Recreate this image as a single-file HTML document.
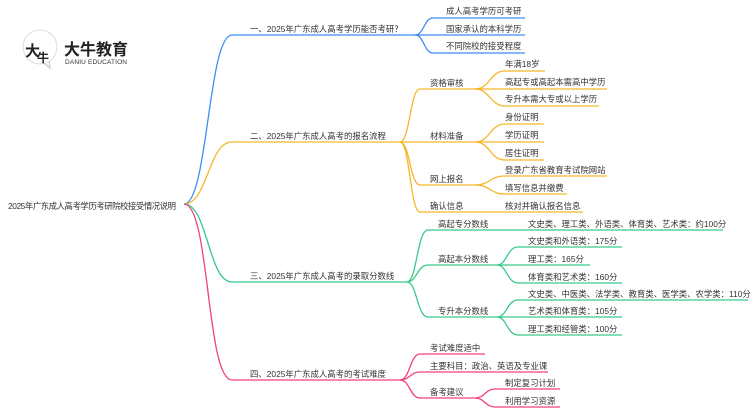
<!DOCTYPE html>
<html><head><meta charset="utf-8"><style>
html,body{margin:0;padding:0;background:#fff;width:750px;height:410px;overflow:hidden}
svg text{font-family:"Liberation Sans","Noto Sans CJK SC",sans-serif;font-size:8.4px;fill:#333}
path{fill:none;stroke-width:1.3}
</style></head><body>
<svg width="750" height="410" viewBox="0 0 750 410" xmlns="http://www.w3.org/2000/svg">
<!-- logo -->
<circle cx="40" cy="47" r="17" fill="#fff" stroke="#ddd" stroke-width="1"/>
<path d="M24 41 A17 17 0 0 1 56 41 Z" fill="#e02020" stroke="none"/>
<path d="M44 63 L50 68 L49 61" stroke="#ccc" stroke-width="1"/>
<text x="25" y="56" style="font-size:15px;fill:#222;font-weight:bold">大</text>
<text x="37" y="62" style="font-size:12px;fill:#222;font-weight:bold">牛</text>
<text x="64" y="55" style="font-size:16px;font-weight:bold;fill:#222">大牛教育</text>
<text x="65" y="64" style="font-size:6.5px;fill:#333" textLength="62">DANIU EDUCATION</text>

<!-- root -->
<text x="8" y="209" textLength="168">2025年广东成人高考学历考研院校接受情况说明</text>

<!-- blue -->
<g stroke="#3c8ef0">
<path d="M184 204 C208 204 208 35 232 35 L415 35"/>
<path d="M415 35 C424 35 424 18 433 18 L525 18"/>
<path d="M415 35 L525 35"/>
<path d="M415 35 C424 35 424 53 433 53 L525 53"/>
</g>
<text x="250" y="32">一、2025年广东成人高考学历能否考研？</text>
<text x="446" y="14">成人高考学历可考研</text>
<text x="446" y="32">国家承认的本科学历</text>
<text x="446" y="49">不同院校的接受程度</text>

<!-- orange -->
<g stroke="#f5b62c">
<path d="M184 204 C208 204 208 142 232 142 L400 142"/>
<path d="M400 142 C410 142 410 89 420 89 L475 89"/>
<path d="M400 142 L475 142"/>
<path d="M400 142 C410 142 410 185 420 185 L475 185"/>
<path d="M400 142 C410 142 410 212 420 212 L583 212"/>
<path d="M475 89 C490 89 490 71 505 71 L545 71"/>
<path d="M475 89 L607 89"/>
<path d="M475 89 C490 89 490 106 505 106 L599 106"/>
<path d="M475 142 C490 142 490 124 505 124 L544 124"/>
<path d="M475 142 L544 142"/>
<path d="M475 142 C490 142 490 160 505 160 L544 160"/>
<path d="M475 185 C490 185 490 176 505 176 L607 176"/>
<path d="M475 185 C490 185 490 194 505 194 L567 194"/>
</g>
<text x="250" y="139">二、2025年广东成人高考的报名流程</text>
<text x="430" y="86">资格审核</text>
<text x="430" y="139">材料准备</text>
<text x="430" y="182">网上报名</text>
<text x="430" y="209">确认信息</text>
<text x="505" y="67">年满18岁</text>
<text x="505" y="85">高起专或高起本需高中学历</text>
<text x="505" y="102">专升本需大专或以上学历</text>
<text x="505" y="120">身份证明</text>
<text x="505" y="138">学历证明</text>
<text x="505" y="156">居住证明</text>
<text x="505" y="173">登录广东省教育考试院网站</text>
<text x="505" y="191">填写信息并缴费</text>
<text x="505" y="209">核对并确认报名信息</text>

<!-- green -->
<g stroke="#36c98a">
<path d="M184 204 C208 204 208 282 232 282 L407 282"/>
<path d="M407 282 C417 282 417 230 428 230 L723 230"/>
<path d="M407 282 C417 282 417 265 428 265 L497 265"/>
<path d="M407 282 C417 282 417 317 428 317 L497 317"/>
<path d="M497 265 C507 265 507 247 518 247 L622 247"/>
<path d="M497 265 L590 265"/>
<path d="M497 265 C507 265 507 283 518 283 L622 283"/>
<path d="M497 317 C507 317 507 300 518 300 L748 300"/>
<path d="M497 317 L622 317"/>
<path d="M497 317 C507 317 507 335 518 335 L622 335"/>
</g>
<text x="250" y="279">三、2025年广东成人高考的录取分数线</text>
<text x="438" y="227">高起专分数线</text>
<text x="438" y="262">高起本分数线</text>
<text x="438" y="314">专升本分数线</text>
<text x="528" y="227">文史类、理工类、外语类、体育类、艺术类：约100分</text>
<text x="528" y="244">文史类和外语类：175分</text>
<text x="528" y="262">理工类：165分</text>
<text x="528" y="280">体育类和艺术类：160分</text>
<text x="528" y="297">文史类、中医类、法学类、教育类、医学类、农学类：110分</text>
<text x="528" y="314">艺术类和体育类：105分</text>
<text x="528" y="332">理工类和经管类：100分</text>

<!-- pink -->
<g stroke="#f0407f">
<path d="M184 204 C210 204 206 380 232 380 L400 380"/>
<path d="M400 380 C410 380 410 354 420 354 L485 354"/>
<path d="M400 380 C410 380 410 372 420 372 L548 372"/>
<path d="M400 380 C410 380 410 398 420 398 L475 398"/>
<path d="M475 398 C485 398 485 389 495 389 L560 389"/>
<path d="M475 398 C485 398 485 407 495 407 L560 407"/>
</g>
<text x="250" y="377">四、2025年广东成人高考的考试难度</text>
<text x="430" y="351">考试难度适中</text>
<text x="430" y="369">主要科目：政治、英语及专业课</text>
<text x="430" y="395">备考建议</text>
<text x="505" y="386">制定复习计划</text>
<text x="505" y="404">利用学习资源</text>
</svg>
</body></html>
